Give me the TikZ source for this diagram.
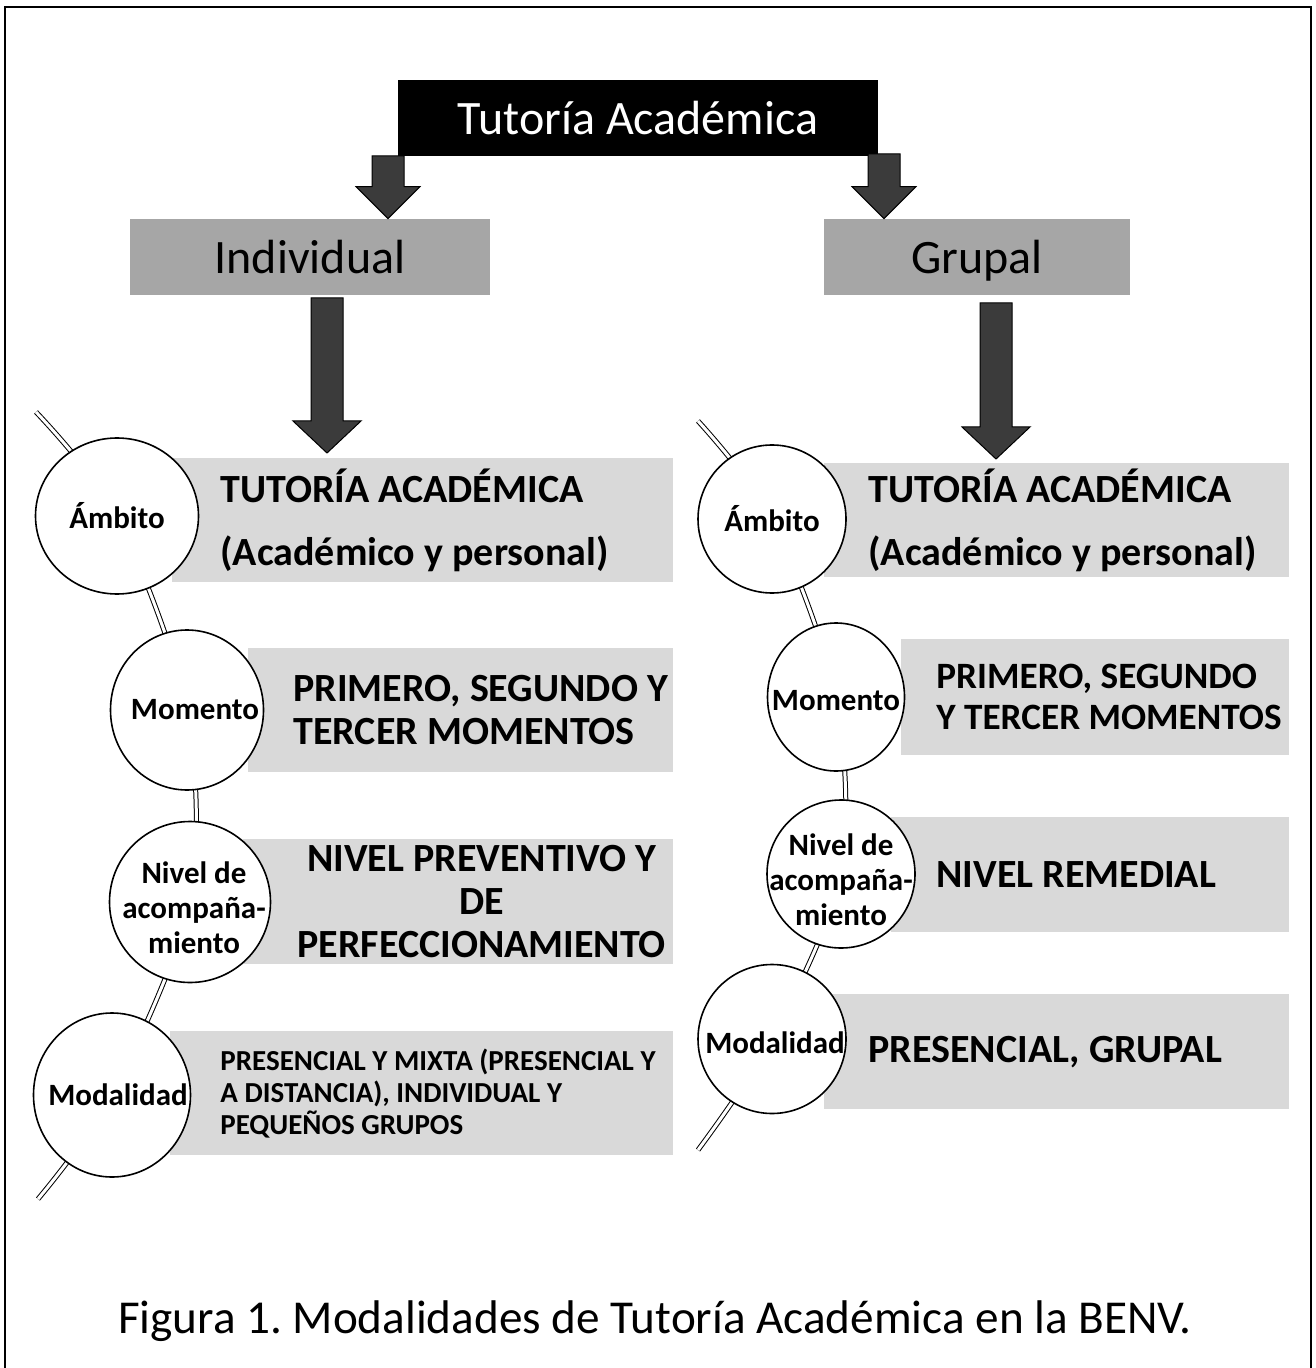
\documentclass[tikz,border=0pt]{standalone}
\usepackage{fontspec}
\setmainfont{Carlito}
\usepackage{tikz}
\usetikzlibrary{shapes, arrows.meta, positioning, backgrounds, calc}
\definecolor{panelgray}{HTML}{D9D9D9}
\definecolor{boxgray}{HTML}{A6A6A6}
\definecolor{arrowgray}{HTML}{3B3B3B}
\frenchspacing
\tikzset{
    titlebox/.style={rectangle, fill=black, text=white, font=\fontsize{24}{28}\selectfont, minimum width=240pt, minimum height=38pt},
    kindbox/.style={rectangle, fill=boxgray, font=\fontsize{24}{28}\selectfont, text depth=0pt, minimum height=38pt},
    panel/.style={rectangle, fill=panelgray, anchor=north west, inner sep=0pt},
    paneltext/.style={font=\bfseries\fontsize{20}{21.5}\selectfont, align=left, inner sep=0pt},
    smalltext/.style={paneltext, font=\bfseries\fontsize{14.5}{16}\selectfont},
    bead/.style={ellipse, draw=black, line width=0.8pt, fill=white, inner sep=0pt},
    beadtext/.style={font=\bfseries\fontsize{15.5}{17.5}\selectfont, align=center, inner sep=0pt},
    chain/.style={draw=black, line width=0.5pt, double=white, double distance=1.5pt},
    barrow/.style={draw=black, line width=0.5pt, fill=arrowgray}
}
\newcommand{\blockarrow}[4]{%
    \draw[barrow] let \p1=(#1), \p2=(#2) in
        (\x1-#3,\y1) -- (\x1+#3,\y1) -- (\x1+#3,\y2+16pt) -- (\x1+#4,\y2+16pt)
        -- (\x1,\y2) -- (\x1-#4,\y2+16pt) -- (\x1-#3,\y2+16pt) -- cycle;
}

\begin{document}
\begin{tikzpicture}[x=0.5pt, y=-0.5pt]
    \useasboundingbox (0,0) rectangle (1315,1368);

    \node [titlebox] (title) at (638,118) {Tutoría Académica};
    \node [kindbox, minimum width=180pt] (ind) at (310,257) {Individual};
    \node [kindbox, minimum width=153pt] (grp) at (977,257) {Grupal};

    \node [bead, minimum width=81.5pt, minimum height=78pt, label={[beadtext]center:Ámbito}] (L1) at (117,516) {};
    \node [bead, minimum width=76.5pt, minimum height=80pt, label={[beadtext, xshift=4pt]center:Momento}] (L2) at (187,710) {};
    \node [bead, minimum width=80.5pt, minimum height=80.5pt, label={[beadtext, xshift=2pt, yshift=-3pt]center:Nivel de\\acompaña-\\miento}] (L3) at (190,902) {};
    \node [bead, minimum width=78.5pt, minimum height=82pt, label={[beadtext, xshift=3pt]center:Modalidad}] (L4) at (112,1095) {};

    \node [bead, minimum width=74pt, minimum height=74pt, label={[beadtext]center:Ámbito}] (R1) at (772,519) {};
    \node [bead, minimum width=68.5pt, minimum height=74pt, label={[beadtext, yshift=-2pt]center:Momento}] (R2) at (836,697) {};
    \node [bead, minimum width=74pt, minimum height=74pt, label={[beadtext, yshift=-3pt]center:Nivel de\\acompaña-\\miento}] (R3) at (841,874) {};
    \node [bead, minimum width=74pt, minimum height=74.5pt, label={[beadtext, xshift=1.5pt, yshift=-2pt]center:Modalidad}] (R4) at (772,1039) {};

    \coordinate (sL) at (36,412);
    \coordinate (eL) at (38,1199);
    \coordinate (sR) at (698,421);
    \coordinate (eR) at (698,1150);

    \begin{scope}[on background layer]
        \node [panel, minimum width=250.5pt, minimum height=62pt] (pL1) at (172,458) {};
        \node [panel, minimum width=212.5pt, minimum height=62pt] (pL2) at (248,648) {};
        \node [panel, minimum width=215pt, minimum height=62.5pt] (pL3) at (243,839) {};
        \node [panel, minimum width=251.5pt, minimum height=62pt] (pL4) at (170,1031) {};
        \node [panel, minimum width=232.5pt, minimum height=57pt] (pR1) at (824,463) {};
        \node [panel, minimum width=194pt, minimum height=58pt] (pR2) at (901,639) {};
        \node [panel, minimum width=199pt, minimum height=57.5pt] (pR3) at (891,817) {};
        \node [panel, minimum width=232.5pt, minimum height=57.5pt] (pR4) at (824,994) {};

        \draw [chain] plot[smooth, tension=0.5] coordinates {(sL) (L1.center) (L2.center) (L3.center) (L4.center) (eL)};
        \draw [chain] plot[smooth, tension=0.5] coordinates {(sR) (R1.center) (R2.center) (R3.center) (R4.center) (eR)};
    \end{scope}

    \node [paneltext, right=24pt of pL1.west] (tL1) {TUTORÍA ACADÉMICA\\[10pt](Académico y personal)};
    \node [paneltext, right=22.5pt of pL2.west] (tL2) {PRIMERO, SEGUNDO Y\\TERCER MOMENTOS};
    \node [paneltext, align=center, right=27pt of pL3.west] (tL3) {NIVEL PREVENTIVO Y\\DE\\PERFECCIONAMIENTO};
    \node [smalltext, right=25pt of pL4.west] (tL4) {PRESENCIAL Y MIXTA (PRESENCIAL Y\\A DISTANCIA), INDIVIDUAL Y\\PEQUEÑOS GRUPOS};
    \node [paneltext, right=22pt of pR1.west] (tR1) {TUTORÍA ACADÉMICA\\[10pt](Académico y personal)};
    \node [paneltext, font=\bfseries\fontsize{18.6}{20.5}\selectfont, right=17.5pt of pR2.west] (tR2) {PRIMERO, SEGUNDO\\Y TERCER MOMENTOS};
    \node [paneltext, right=22.5pt of pR3.west] (tR3) {NIVEL REMEDIAL};
    \node [paneltext, right=22pt of pR4.west] (tR4) {PRESENCIAL, GRUPAL};

    \coordinate (aL) at (388,156);
    \coordinate (aR) at (884,154);
    \coordinate (bL) at (327,298);
    \coordinate (bR) at (996,303);
    \blockarrow{aL}{ind.north}{8pt}{16pt}
    \blockarrow{aR}{grp.north}{8pt}{16pt}
    \blockarrow{bL}{$(pL1.north)+(0,-5)$}{8pt}{17pt}
    \blockarrow{bR}{$(pR1.north)+(0,-4)$}{8pt}{17pt}

    \node [font=\fontsize{23.6}{28}\selectfont, anchor=base] (caption) at (655,1333) {Figura 1. Modalidades de Tutoría Académica en la BENV.};

    \draw [line width=1pt] (5,1368) -- (5,7) -- (1311,7) -- (1311,1368);
\end{tikzpicture}
\end{document}
